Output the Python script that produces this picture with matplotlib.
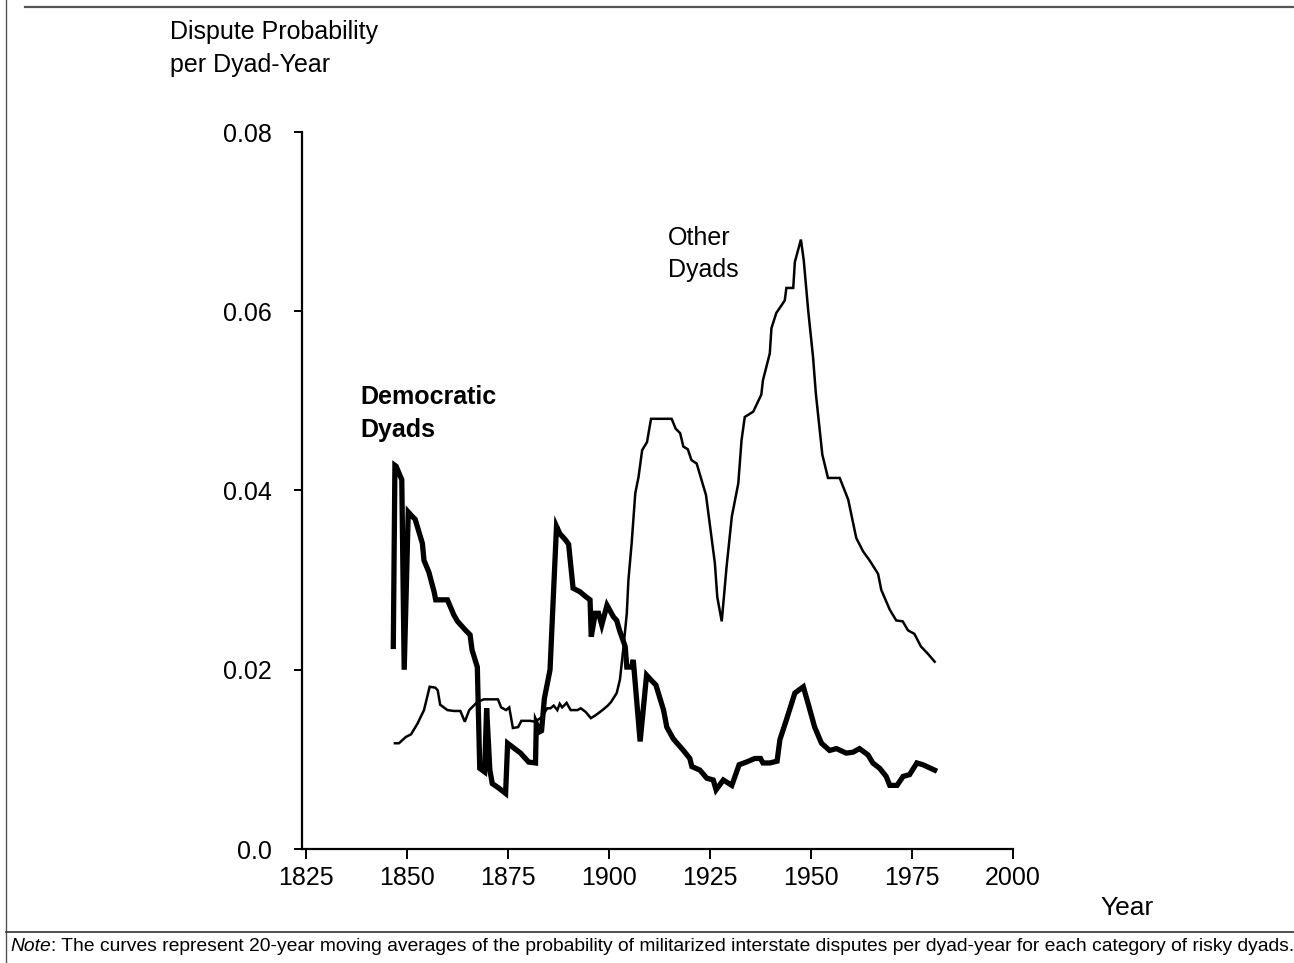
import numpy as np
import matplotlib
matplotlib.use("Agg")
from matplotlib import pyplot as plt
from matplotlib.lines import Line2D

plt.rcParams['font.family'] = ['Liberation Sans', 'DejaVu Sans']

# Democratic dyads (thick curve)
demYears = [1846.6, 1847.0, 1847.3, 1848.7, 1849.3, 1850.3, 1851.3, 1852.0, 1853.8,
            1854.2, 1855.4, 1856.7, 1857.1, 1860.0, 1861.6, 1862.5, 1864.5, 1865.6,
            1866.1, 1867.4, 1868.0, 1869.2, 1869.7, 1870.5, 1871.1, 1872.7, 1874.4,
            1874.9, 1878.1, 1880.1, 1881.8, 1882.0, 1882.9, 1883.3, 1884.0, 1885.4,
            1887.0, 1887.8, 1889.2, 1890.0, 1891.1, 1892.8, 1894.4, 1895.3, 1895.6,
            1896.6, 1897.4, 1898.2, 1899.5, 1901.1, 1901.9, 1902.6, 1904.0, 1904.4,
            1905.6, 1906.0, 1907.7, 1909.3, 1910.5, 1911.6, 1913.5, 1914.3, 1915.9,
            1918.4, 1920.0, 1920.5, 1922.5, 1924.2, 1925.8, 1926.5, 1928.3, 1930.4,
            1932.2, 1934.0, 1936.1, 1937.5, 1938.1, 1939.8, 1941.6, 1942.3, 1943.9,
            1946.0, 1948.1, 1949.3, 1950.9, 1952.6, 1954.6, 1956.3, 1958.7, 1960.4,
            1962.0, 1964.1, 1965.3, 1967.0, 1968.6, 1969.5, 1971.3, 1972.8, 1974.4,
            1976.2, 1977.7, 1980.6]
demVals = [0.0226, 0.0428, 0.0427, 0.0412, 0.0200, 0.0376, 0.0371, 0.0368, 0.0341,
           0.0322, 0.0309, 0.0287, 0.0278, 0.0278, 0.0261, 0.0254, 0.0244, 0.0239,
           0.0222, 0.0203, 0.0090, 0.0086, 0.0157, 0.0088, 0.0073, 0.0068, 0.0062,
           0.0118, 0.0107, 0.0097, 0.0096, 0.0140, 0.0131, 0.0132, 0.0168, 0.0200,
           0.0360, 0.0352, 0.0345, 0.0340, 0.0291, 0.0287, 0.0281, 0.0278, 0.0237,
           0.0263, 0.0263, 0.0250, 0.0272, 0.0259, 0.0255, 0.0244, 0.0226, 0.0203,
           0.0203, 0.0211, 0.0120, 0.0194, 0.0188, 0.0183, 0.0155, 0.0136, 0.0123,
           0.0110, 0.0101, 0.0092, 0.0088, 0.0079, 0.0077, 0.0066, 0.0077, 0.0071,
           0.0094, 0.0097, 0.0101, 0.0101, 0.0096, 0.0096, 0.0098, 0.0122, 0.0144,
           0.0174, 0.0181, 0.0162, 0.0136, 0.0118, 0.0110, 0.0112, 0.0107, 0.0108,
           0.0112, 0.0105, 0.0096, 0.0090, 0.0081, 0.0071, 0.0071, 0.0081, 0.0083,
           0.0096, 0.0094, 0.0088]

# Other dyads (thin curve)
othYears = [1847.0, 1848.0, 1849.7, 1851.0, 1852.6, 1854.2, 1855.6, 1857.0, 1857.6,
            1858.2, 1860.0, 1861.6, 1863.2, 1864.3, 1865.4, 1867.4, 1869.0, 1872.5,
            1873.3, 1874.5, 1875.3, 1876.2, 1877.5, 1878.3, 1880.5, 1881.7, 1883.3,
            1884.7, 1885.5, 1886.3, 1887.2, 1887.8, 1888.4, 1889.5, 1890.5, 1892.2,
            1893.0, 1894.2, 1895.5, 1896.6, 1898.1, 1899.7, 1900.5, 1901.9, 1902.7,
            1903.6, 1904.4, 1904.8, 1905.6, 1906.5, 1907.3, 1908.2, 1909.4, 1910.4,
            1915.5, 1916.5, 1917.6, 1918.4, 1919.5, 1920.4, 1921.7, 1924.0, 1926.2,
            1926.8, 1927.9, 1929.1, 1930.4, 1932.0, 1932.8, 1933.6, 1935.7, 1937.7,
            1938.1, 1939.8, 1940.2, 1941.4, 1943.5, 1943.9, 1945.6, 1946.0, 1947.5,
            1948.2, 1949.3, 1950.5, 1951.2, 1952.8, 1954.2, 1957.1, 1959.2, 1961.2,
            1962.9, 1964.5, 1966.6, 1967.4, 1969.5, 1971.1, 1972.7, 1974.0, 1975.6,
            1977.2, 1978.9, 1980.6]
othVals = [0.0118, 0.0118, 0.0125, 0.0128, 0.0140, 0.0155, 0.0181, 0.0180, 0.0177,
           0.0161, 0.0155, 0.0154, 0.0154, 0.0142, 0.0155, 0.0164, 0.0167, 0.0167,
           0.0158, 0.0155, 0.0158, 0.0135, 0.0136, 0.0143, 0.0143, 0.0142, 0.0147,
           0.0157, 0.0157, 0.0160, 0.0155, 0.0162, 0.0158, 0.0163, 0.0155, 0.0155,
           0.0157, 0.0153, 0.0146, 0.0149, 0.0154, 0.0160, 0.0164, 0.0174, 0.0189,
           0.0226, 0.0263, 0.0300, 0.0341, 0.0397, 0.0415, 0.0445, 0.0454, 0.0480,
           0.0480, 0.0469, 0.0464, 0.0449, 0.0446, 0.0434, 0.0430, 0.0395, 0.0319,
           0.0281, 0.0254, 0.0315, 0.0371, 0.0408, 0.0456, 0.0482, 0.0488, 0.0507,
           0.0523, 0.0553, 0.0581, 0.0598, 0.0612, 0.0626, 0.0626, 0.0655, 0.0680,
           0.0657, 0.0601, 0.0549, 0.0508, 0.0440, 0.0414, 0.0414, 0.0390, 0.0347,
           0.0332, 0.0322, 0.0307, 0.0289, 0.0267, 0.0255, 0.0254, 0.0244, 0.0240,
           0.0226, 0.0218, 0.0209]

xTicks = [1825, 1850, 1875, 1900, 1925, 1950, 1975, 2000]
yTicks = [0.0, 0.02, 0.04, 0.06, 0.08]
yTickLabels = ["0.0", "0.02", "0.04", "0.06", "0.08"]

W, H = 1294, 963
fig = plt.figure(figsize=(W / 100, H / 100), dpi=100)


def fx(px):
    return px / W


def fy(py):
    return 1 - py / H


ax = fig.add_axes([fx(302), fy(849), fx(1013) - fx(302), fy(132) - fy(849)])

ax.plot(othYears, othVals, color='black', lw=1.8, solid_joinstyle='miter')
ax.plot(demYears, demVals, color='black', lw=3.8, solid_joinstyle='miter')

ax.set_xlim(1824, 2000)
ax.set_ylim(0, 0.08)
ax.spines['top'].set_visible(False)
ax.spines['right'].set_visible(False)
ax.spines['left'].set_linewidth(1.6)
ax.spines['bottom'].set_linewidth(1.6)
ax.spines['bottom'].set_bounds(1824, 2000)

ax.set_xticks(xTicks)
ax.set_xticklabels([str(t) for t in xTicks])
ax.set_yticks(yTicks)
ax.set_yticklabels(yTickLabels)
ax.tick_params(axis='x', direction='out', length=7, width=1.4, pad=5, labelsize=18)
ax.tick_params(axis='y', direction='out', length=6, width=1.4, pad=16, labelsize=18)

# labels and annotations
fs = 18
fig.text(fx(170), fy(32), "Dispute Probability", fontsize=fs, va='center', ha='left')
fig.text(fx(170), fy(65), "per Dyad-Year", fontsize=fs, va='center', ha='left')
fig.text(fx(1100), fy(908), "Year", fontsize=19, va='center', ha='left')
fig.text(fx(360), fy(397), "Democratic", fontsize=fs, fontweight='bold', va='center', ha='left')
fig.text(fx(360), fy(430), "Dyads", fontsize=fs, fontweight='bold', va='center', ha='left')
fig.text(fx(668), fy(238), "Other", fontsize=fs, va='center', ha='left')
fig.text(fx(668), fy(270), "Dyads", fontsize=fs, va='center', ha='left')

# note under the chart: italic "Note" followed by regular text
nfs = 13.9
t1 = fig.text(fx(10), fy(946), "Note", fontsize=nfs, style='italic', va='center', ha='left')
fig.canvas.draw()
bb = t1.get_window_extent(renderer=fig.canvas.get_renderer())
fig.text(bb.x1 / W, fy(946), ": The curves represent 20-year moving averages of the probability "
         "of militarized interstate disputes per dyad-year for each category of risky dyads.",
         fontsize=nfs, va='center', ha='left')

# page frame lines
fig.add_artist(Line2D([fx(25), 1], [fy(7), fy(7)], color='#555555', lw=1.6))
fig.add_artist(Line2D([fx(6), fx(6)], [0, 1], color='#555555', lw=1.0))
fig.add_artist(Line2D([fx(6), 1], [fy(932), fy(932)], color='#333333', lw=1.2))

fig.savefig("out.png", dpi=100)
